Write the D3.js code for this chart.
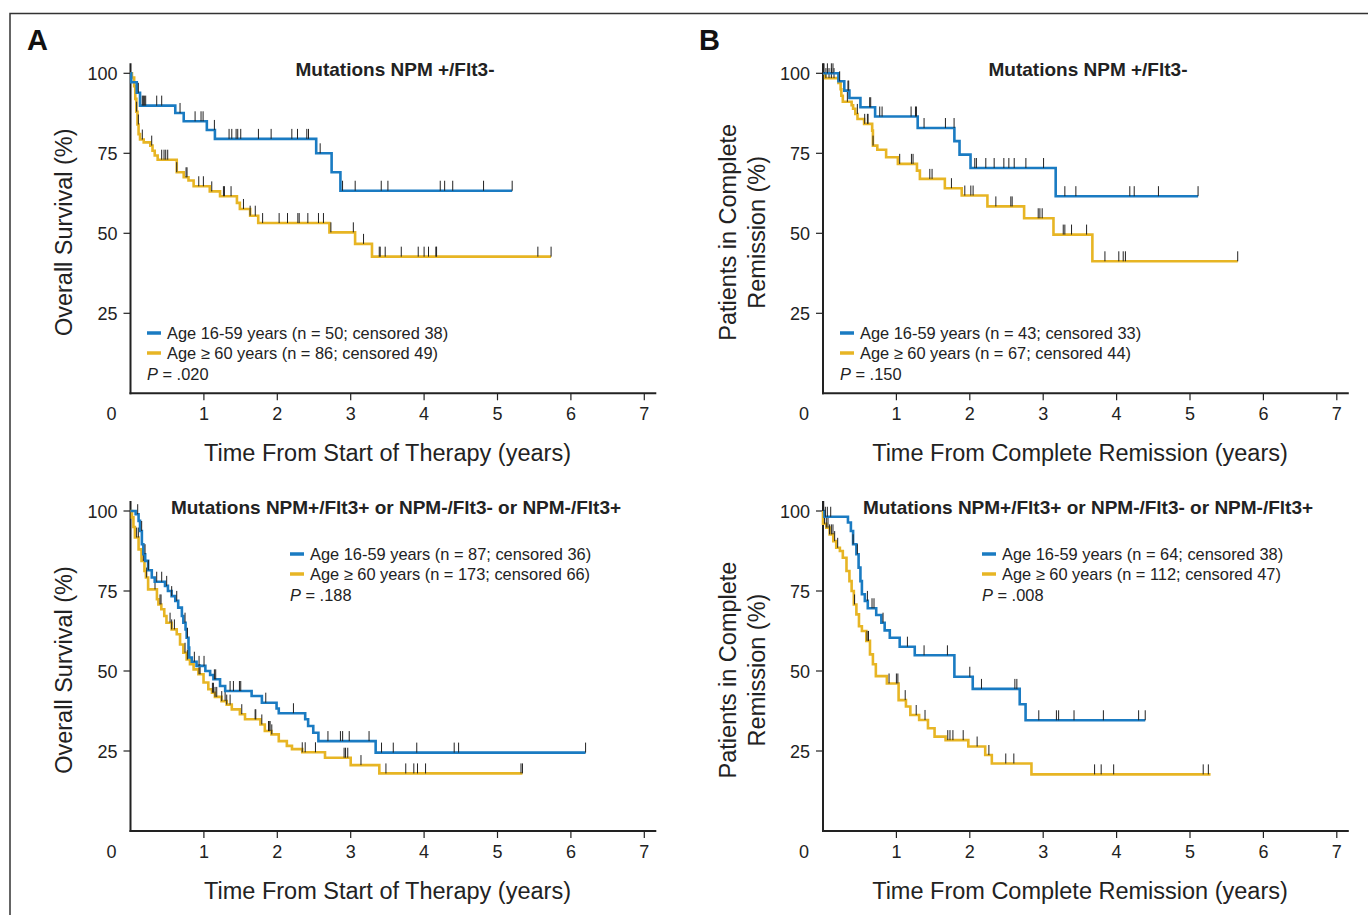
<!DOCTYPE html>
<html>
<head>
<meta charset="utf-8">
<script src="https://cdn.jsdelivr.net/npm/d3@7"></script>
<style>
	body { margin: 0; background: #fff; }
	svg { display: block; font-family: "Liberation Sans", Arial, Helvetica, sans-serif; }
	.tick-label { font-size: 18px; fill: #222; }
	.axis-title { font-size: 23.5px; fill: #222; }
	.panel-title { font-size: 19px; font-weight: bold; fill: #222; }
	.legend { font-size: 16.4px; fill: #222; }
	.letter { font-size: 29px; font-weight: bold; fill: #111; }
</style>
</head>
<body>
<div id="graphic"></div>
<script>
// ---- data: [years, % surviving] step points (last point = end of follow-up)
var aTopYoungSteps = [[0,100],[0.01,97.2],[0.085,93.9],[0.13,89.9],[0.61,87.6],[0.725,85.0],[1.04,82.3],[1.15,79.5],[2.53,75.0],[2.74,69.1],[2.86,63.3],[5.2,63.3]];
var aTopYoungCensor = [0.107,0.161,0.175,0.189,0.207,0.357,0.425,0.675,0.88,0.961,0.989,1.143,1.343,1.38,1.439,1.461,1.502,1.743,1.916,2.198,2.275,2.402,2.425,2.584,2.889,3.061,3.416,3.507,4.22,4.28,4.39,4.81,5.2];
var aTopOldSteps = [[0,100],[0.02,98.7],[0.05,96],[0.065,92],[0.08,88],[0.095,84],[0.11,81],[0.13,79.3],[0.18,78.4],[0.27,77.4],[0.30,75.8],[0.33,74.3],[0.37,73.0],[0.63,69.1],[0.725,67.5],[0.79,66.5],[0.86,64.7],[1.08,63.1],[1.22,61.6],[1.45,59.5],[1.49,57.6],[1.63,55.5],[1.74,53.2],[2.71,50.3],[3.06,46.7],[3.29,42.7],[5.73,42.7]];
var aTopOldCensor = [0.084,0.107,0.161,0.289,0.425,0.457,0.48,0.507,0.63,0.757,0.77,0.93,0.993,1.107,1.266,1.28,1.37,1.539,1.63,1.7,1.80,2.025,2.139,2.28,2.298,2.416,2.561,2.629,2.73,3.036,3.175,3.389,3.402,3.47,3.689,3.92,4.0,4.06,4.16,4.17,5.55,5.73];

var bTopYoungSteps = [[0,100],[0.21,97.5],[0.29,94.6],[0.36,92.3],[0.51,89.4],[0.71,86.5],[1.29,82.9],[1.79,78.8],[1.86,74.6],[2.01,70.4],[3.17,61.6],[5.11,61.6]];
var bTopYoungCensor = [0.014,0.06,0.114,0.136,0.227,0.34,0.35,0.636,0.65,0.773,0.805,1.2,1.26,1.273,1.377,1.668,1.786,2.068,2.09,2.218,2.332,2.464,2.532,2.605,2.764,3.005,3.295,3.445,4.18,4.24,4.57,5.11];
var bTopOldSteps = [[0,100],[0.03,98.5],[0.21,97.0],[0.24,95.0],[0.25,93.0],[0.27,91.1],[0.39,90.0],[0.41,88.9],[0.44,87.3],[0.47,85.7],[0.56,84.2],[0.67,82.1],[0.68,77.4],[0.74,76.1],[0.86,73.75],[1.02,71.7],[1.28,69.6],[1.32,67.0],[1.66,64.1],[1.89,61.8],[2.24,58.4],[2.74,54.7],[3.14,49.6],[3.67,41.25],[5.65,41.25]];
var bTopOldCensor = [0.04,0.082,0.114,0.15,0.332,0.468,0.568,0.605,0.614,0.682,1.045,1.205,1.227,1.455,1.486,1.75,1.932,2.014,2.045,2.355,2.559,2.577,2.932,2.955,2.986,3.273,3.295,3.386,3.591,3.841,4.03,4.09,4.12,5.65];

var aBotYoungSteps = [[0,100],[0.07,99],[0.11,96.9],[0.13,93.75],[0.155,89.6],[0.175,86.5],[0.2,84.4],[0.24,81.5],[0.29,79.2],[0.33,77.9],[0.47,76.6],[0.51,75.0],[0.56,73.4],[0.61,71.9],[0.65,69.8],[0.70,67.2],[0.72,65.1],[0.75,63.0],[0.765,60.4],[0.79,57.3],[0.80,54.2],[0.835,52.9],[0.90,51.6],[1.02,50.0],[1.085,48.75],[1.13,47.4],[1.22,45.3],[1.29,43.75],[1.65,42.2],[1.79,40.1],[1.99,38.3],[2.02,36.8],[2.38,34.9],[2.42,32.8],[2.49,30.7],[2.56,28.1],[3.34,24.5],[6.2,24.5]];
var aBotYoungCensor = [0.098,0.152,0.198,0.243,0.357,0.425,0.493,0.561,0.63,0.743,0.775,0.87,0.934,1.002,1.143,1.161,1.357,1.402,1.484,1.502,1.843,2.22,2.69,2.86,2.89,2.98,3.25,3.42,3.58,3.9,4.41,4.47,6.2];
var aBotOldSteps = [[0,100],[0.02,98],[0.04,95],[0.06,91.7],[0.11,88],[0.15,84.4],[0.19,81.25],[0.21,79.2],[0.24,75.5],[0.36,72.4],[0.38,70.8],[0.42,69.3],[0.46,67.2],[0.49,65.1],[0.56,63.0],[0.63,61.5],[0.675,58.3],[0.72,55.7],[0.765,53.6],[0.81,52.1],[0.86,50.5],[0.925,49.0],[0.995,46.4],[1.06,44.3],[1.11,43.2],[1.15,41.9],[1.24,40.6],[1.31,39.5],[1.38,38.0],[1.49,36.5],[1.56,34.9],[1.77,33.3],[1.83,31.25],[1.92,30.2],[2.02,28.1],[2.13,26.6],[2.2,25.6],[2.34,24.6],[2.65,22.9],[3.0,20.6],[3.39,18.0],[5.34,18.0]];
var aBotOldCensor = [0.084,0.107,0.175,0.22,0.334,0.402,0.416,0.539,0.561,0.598,0.743,0.775,0.934,0.948,1.116,1.13,1.152,1.175,1.243,1.289,1.311,1.357,1.516,1.698,1.707,1.789,1.88,1.889,1.902,1.925,2.34,2.38,2.52,2.91,2.93,2.96,3.14,3.48,3.75,3.86,3.91,4.02,5.32,5.34];

var bBotYoungSteps = [[0,100],[0.02,98.2],[0.34,96.4],[0.38,93.75],[0.41,89.6],[0.455,86.5],[0.485,82.3],[0.51,78.1],[0.53,74.0],[0.57,71.9],[0.61,69.6],[0.725,67.5],[0.795,65.1],[0.84,62.7],[0.91,60.4],[1.045,57.6],[1.25,54.9],[1.79,48.2],[2.04,44.4],[2.68,39.6],[2.76,34.6],[4.39,34.6]];
var bBotYoungCensor = [0.01,0.032,0.059,0.105,0.41,0.468,0.605,0.668,0.695,0.818,1.15,1.377,1.695,2.0,2.159,2.614,2.641,2.94,3.18,3.21,3.42,3.82,4.3,4.39];
var bBotOldSteps = [[0,96],[0.045,94.8],[0.09,92.7],[0.14,90.6],[0.18,88.5],[0.23,87.5],[0.27,85.4],[0.32,81.25],[0.36,78.1],[0.39,75.0],[0.42,70.8],[0.455,67.7],[0.49,64.0],[0.53,62.5],[0.59,59.4],[0.64,55.2],[0.68,52.1],[0.72,48.4],[0.87,46.1],[1.03,40.9],[1.13,38.9],[1.19,36.25],[1.31,34.7],[1.43,32.1],[1.52,29.5],[1.67,28.4],[1.98,26.4],[2.21,23.75],[2.3,21.1],[2.84,17.7],[5.28,17.7]];
var bBotOldCensor = [0.02,0.045,0.068,0.09,0.114,0.136,0.159,0.2,0.43,0.6,0.62,0.9,1.0,1.02,1.12,1.27,1.39,1.7,1.73,1.77,1.91,2.1,2.26,2.49,2.6,3.7,3.79,3.96,5.18,5.25];

var xTicks = [1, 2, 3, 4, 5, 6, 7];
var yTicks = [25, 50, 75, 100];
var colours = { young: '#1a7bc2', old: '#e7b524' };

var panels = [
	{ letter: 'A', letterX: 27, x0: 130.5, y100: 73.3, title: 'Mutations NPM +/Flt3-', titleX: 395,
	  yTitle: ['Overall Survival (%)'], yTitleX: 64, xTitle: 'Time From Start of Therapy (years)',
	  young: aTopYoungSteps, youngC: aTopYoungCensor, old: aTopOldSteps, oldC: aTopOldCensor,
	  legend: ['Age 16-59 years (n = 50; censored 38)', 'Age \u2265 60 years (n = 86; censored 49)'],
	  p: '.020', legX: 147, legY: 333 },
	{ letter: 'B', letterX: 699, x0: 823, y100: 73.3, title: 'Mutations NPM +/Flt3-', titleX: 1088,
	  yTitle: ['Patients in Complete', 'Remission (%)'], yTitleX: 728, xTitle: 'Time From Complete Remission (years)',
	  young: bTopYoungSteps, youngC: bTopYoungCensor, old: bTopOldSteps, oldC: bTopOldCensor,
	  legend: ['Age 16-59 years (n = 43; censored 33)', 'Age \u2265 60 years (n = 67; censored 44)'],
	  p: '.150', legX: 840, legY: 333 },
	{ letter: '', x0: 130.5, y100: 511, title: 'Mutations NPM+/Flt3+ or NPM-/Flt3- or NPM-/Flt3+', titleX: 396,
	  yTitle: ['Overall Survival (%)'], yTitleX: 64, xTitle: 'Time From Start of Therapy (years)',
	  young: aBotYoungSteps, youngC: aBotYoungCensor, old: aBotOldSteps, oldC: aBotOldCensor,
	  legend: ['Age 16-59 years (n = 87; censored 36)', 'Age \u2265 60 years (n = 173; censored 66)'],
	  p: '.188', legX: 290, legY: 554 },
	{ letter: '', x0: 823, y100: 511, title: 'Mutations NPM+/Flt3+ or NPM-/Flt3- or NPM-/Flt3+', titleX: 1088,
	  yTitle: ['Patients in Complete', 'Remission (%)'], yTitleX: 728, xTitle: 'Time From Complete Remission (years)',
	  young: bBotYoungSteps, youngC: bBotYoungCensor, old: bBotOldSteps, oldC: bBotOldCensor,
	  legend: ['Age 16-59 years (n = 64; censored 38)', 'Age \u2265 60 years (n = 112; censored 47)'],
	  p: '.008', legX: 982, legY: 554 }
];

var svg = d3.select('#graphic').append('svg').attr('width', 1368).attr('height', 915);

// frame
svg.append('path').attr('d', 'M10,915 V13.5 H1368')
	.attr('fill', 'none').attr('stroke', '#333').attr('stroke-width', 1.5);

function survivalAt(steps, t) {
	var v = steps[0][1];
	steps.forEach(function (d) { if (d[0] <= t) v = d[1]; });
	return v;
}

function drawPanel(p) {
	var x = d3.scaleLinear().domain([0, 7]).range([p.x0, p.x0 + 7 * 73.4]);
	var y = d3.scaleLinear().domain([0, 100]).range([p.y100 + 320, p.y100]);
	var g = svg.append('g');

	if (p.letter) {
		g.append('text').attr('class', 'letter').attr('x', p.letterX).attr('y', 50).text(p.letter);
	}

	// axes lines
	g.append('line').attr('x1', x(0)).attr('x2', x(0)).attr('y1', y(100) - 10).attr('y2', y(0) + 1)
		.attr('stroke', '#222').attr('stroke-width', 2);
	g.append('line').attr('x1', x(0) - 1).attr('x2', x(7) + 12).attr('y1', y(0)).attr('y2', y(0))
		.attr('stroke', '#222').attr('stroke-width', 2);

	g.selectAll('line.xt').data(xTicks).join('line').attr('class', 'xt')
		.attr('x1', d => x(d)).attr('x2', d => x(d)).attr('y1', y(0)).attr('y2', y(0) + 7)
		.attr('stroke', '#222').attr('stroke-width', 1.2);
	g.selectAll('text.xl').data([0].concat(xTicks)).join('text').attr('class', 'xl tick-label')
		.attr('x', d => d == 0 ? x(0) - 19 : x(d)).attr('y', y(0) + 27)
		.attr('text-anchor', 'middle').text(d => d);

	g.selectAll('line.yt').data(yTicks).join('line').attr('class', 'yt')
		.attr('x1', x(0) - 7).attr('x2', x(0)).attr('y1', d => y(d)).attr('y2', d => y(d))
		.attr('stroke', '#222').attr('stroke-width', 1.2);
	g.selectAll('text.yl').data(yTicks).join('text').attr('class', 'yl tick-label')
		.attr('x', x(0) - 13).attr('y', d => y(d) + 6.5)
		.attr('text-anchor', 'end').text(d => d);

	// axis titles
	g.append('text').attr('class', 'axis-title').attr('text-anchor', 'middle')
		.attr('x', x(0) + 257).attr('y', y(0) + 68).text(p.xTitle);
	var yt = g.append('text').attr('class', 'axis-title').attr('text-anchor', 'middle')
		.attr('transform', 'translate(' + p.yTitleX + ',' + (y(50) - 1) + ') rotate(-90)');
	p.yTitle.forEach(function (t, i) {
		yt.append('tspan').attr('x', 0).attr('y', i * 29 + 8).text(t);
	});

	g.append('text').attr('class', 'panel-title').attr('text-anchor', 'middle')
		.attr('x', p.titleX).attr('y', y(100) + 3).text(p.title);

	// curves
	var line = d3.line().x(d => x(d[0])).y(d => y(d[1])).curve(d3.curveStepAfter);
	[['old', 'oldC'], ['young', 'youngC']].forEach(function (k) {
		var steps = p[k[0]];
		var first = steps[0][0] > 0 || steps[0][1] < 100 ? [[0, 100]] : [];
		g.append('path').datum(first.concat(steps)).attr('d', line)
			.attr('fill', 'none').attr('stroke', colours[k[0]]).attr('stroke-width', 2.6);
		g.selectAll('line.c' + k[0]).data(p[k[1]]).join('line').attr('class', 'c' + k[0])
			.attr('x1', d => x(d)).attr('x2', d => x(d))
			.attr('y1', d => y(survivalAt(steps, d)) - 10).attr('y2', d => y(survivalAt(steps, d)))
			.attr('stroke', '#222').attr('stroke-width', 1);
	});

	// legend
	var leg = g.append('g').attr('class', 'legend');
	p.legend.forEach(function (t, i) {
		var ly = p.legY + i * 20;
		leg.append('line').attr('x1', p.legX).attr('x2', p.legX + 14).attr('y1', ly).attr('y2', ly)
			.attr('stroke', i == 0 ? colours.young : colours.old).attr('stroke-width', 3.5);
		leg.append('text').attr('class', 'legend').attr('x', p.legX + 20).attr('y', ly + 6).text(t);
	});
	var pt = leg.append('text').attr('class', 'legend').attr('x', p.legX).attr('y', p.legY + 47);
	pt.append('tspan').attr('font-style', 'italic').text('P');
	pt.append('tspan').text(' = ' + p.p);
}

panels.forEach(drawPanel);
</script>
</body>
</html>
